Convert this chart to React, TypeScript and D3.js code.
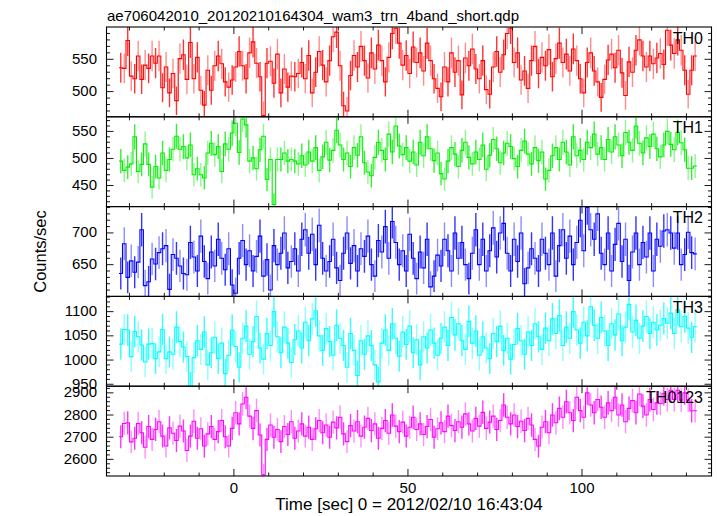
import React from 'react';
import * as d3 from 'd3';

const T_START = -33;
const BIN = 1;

const th0 = [
537,536,579,524,520,555,519,541,536,555,
544,555,506,538,498,528,486,551,557,519,
576,520,553,502,479,533,502,540,555,543,
515,507,518,538,562,540,520,560,577,544,
523,463,544,547,513,558,498,535,507,524,
523,528,
545,520,556,498,530,562,541,515,548,585,
592,540,478,470,525,556,538,570,548,521,
560,535,572,548,515,553,590,598,575,541,
556,528,569,545,560,532,575,548,520,505,
492,538,515,560,530,548,495,552,540,566,
535,520,548,503,496,538,562,530,557,590,
598,545,560,518,532,505,548,570,528,553,
540,565,523,551,575,545,558,532,566,548,
520,498,545,560,532,515,
491,519,549,558,537,564,529,494,546,530,
564,580,555,538,555,543,552,559,542,595,
572,559,580,564,533,496,533,555
];

const th1 = [
495,478,484,490,540,476,489,527,489,447,
485,464,510,478,498,517,541,517,522,501,
525,470,481,470,464,510,528,507,522,476,
527,517,547,565,511,573,562,495,501,481,
516,541,461,498,415,498,498,510,495,498,
495,490,
505,488,512,495,520,478,503,530,497,515,
552,525,498,510,485,520,506,540,492,475,
468,502,530,515,498,545,512,560,523,507,
520,495,512,488,530,505,540,518,496,510,
472,462,495,520,508,485,515,530,502,490,
512,498,525,480,506,535,518,492,510,528,
522,500,485,515,532,508,490,520,496,512,
462,478,505,520,498,530,512,488,540,505,
515,498,530,520,545,508,
520,498,535,512,540,525,505,548,530,515,560,528,510,538,522,545,518,
503,525,550,526,516,548,529,516,482,482,486
];

const th2 = [
636,683,630,656,638,654,705,617,623,659,
651,669,675,680,611,666,660,648,636,634,
685,662,640,695,655,628,670,648,690,660,
642,675,618,605,660,688,650,672,640,663,
695,632,658,610,680,650,668,700,645,655,
675,640,690,705,668,698,650,712,660,640,
655,690,645,625,668,700,652,680,640,675,
663,695,650,632,688,670,710,660,718,685,
650,672,640,698,660,628,670,645,690,615,
632,665,648,690,672,640,700,660,685,650,
628,668,705,650,690,640,672,708,662,700,
715,668,640,690,655,700,620,645,675,660,
640,690,668,650,700,632,680,705,660,695,
650,685,720,672,740,705,690,730,668,650,
700,640,682,715,655,690,625,670,700,650,
685,662,700,640,690,
679,703,705,700,676,700,650,666,701,669,667
];

const th3 = [
1033,1063,1062,1007,1059,1048,1031,996,1033,1034,
1003,1017,1063,1003,1017,1012,1068,1038,1027,1007,
945,
1005,1040,1022,1058,990,1015,1047,1003,1035,972,
1010,1062,1028,985,1045,1070,1012,1038,1090,1025,
1002,1055,1030,1100,1048,1015,1068,1035,995,1042,
1060,1025,1078,1040,1085,1102,1050,1020,1065,1038,
1010,1072,1045,1030,985,1055,1020,968,1040,1012,
1050,1030,990,955,1035,1062,1020,1075,1045,1008,
1058,1032,1070,1015,1042,990,1048,1025,1062,1035,
1010,1045,1068,1030,1088,1052,1075,1040,1022,1080,
1035,1060,1010,1048,1025,1003,1055,1038,1070,1020,
1045,1002,1032,1065,1040,1012,1058,1030,1075,1048,
1022,1066,1040,1085,1055,1092,1030,1068,1045,1100,
1062,1035,1078,1050,1110,1072,1045,1088,1060,1030,
1075,1052,1095,1040,1068,1115,1058,1082,1045,1070,
1090,1055,1078,1062,
1072,1086,1076,1097,1055,1104,1069,1090,1066,1047,1069
];

const th0123 = [
2702,2762,2765,2679,2695,2762,
2720,2655,2748,2690,2735,2770,2705,2660,2742,2718,
2685,2750,2728,2640,2705,2772,2695,2738,2660,2715,
2748,2690,2725,2775,2702,2660,2740,2810,2760,2850,
2880,2795,2740,2820,2710,2530,2690,2755,2700,2735,
2680,2748,2712,2770,2695,2728,2760,2705,2745,2690,
2738,2775,2720,2755,2700,2768,2742,2790,2715,2680,
2752,2728,2770,2705,2745,2785,2730,2760,2695,2740,
2775,2718,2800,2750,2725,2768,2705,2745,2790,2735,
2760,2712,2748,2780,2700,2738,2765,2725,2795,2752,
2730,2770,2745,2805,2760,2728,2785,2750,2812,2740,
2768,2795,2735,2775,2845,2790,2760,2800,2748,2772,
2730,2785,2755,2690,2660,2745,2770,2720,2800,2765,
2830,2790,2860,2810,2775,2880,2820,2790,2900,2845,
2810,2870,2835,2790,2855,2820,2880,2800,2845,2770,
2830,2865,2810,2895,2840,2800,2870,2825,2855,
2852,2897,2870,2912,2870,2912,2867,2900,2867,2819,2819
];

const panelNames = ['TH0', 'TH1', 'TH2', 'TH3', 'TH0123'];
const panelColors = ['#ff0000', '#00ee00', '#0000ff', '#00ffff', '#ff00ff'];
const yDomains: [number, number][] = [[461, 600], [411, 577], [600, 741.5], [946, 1131.5], [2525, 2930]];
const yLabelTicks = [[500, 550], [450, 500, 550], [650, 700], [950, 1000, 1050, 1100], [2600, 2700, 2800, 2900]];
const yMinorSteps = [10, 10, 10, 10, 20];
const xDomain: [number, number] = [-36.6, 137.2];
const xLabelTicks = [0, 50, 100];
const xMinorTicks = d3.range(-30, 140, 10);

const titleText = 'ae706042010_20120210164304_wam3_trn_4band_short.qdp';
const xTitle = 'Time [sec] 0 = 2012/02/10 16:43:04';
const yTitle = 'Counts/sec';

const FONT = '"Liberation Sans", Arial, Helvetica, sans-serif';

export default function App() {
  const W = 717, H = 516;
  const left = 106.5, right = 711.5, top = 27, bottom = 476;
  const series = [th0, th1, th2, th3, th0123];
  const ph = (bottom - top) / series.length;
  const x = d3.scaleLinear().domain(xDomain).range([left, right]);

  return (
    <div style={{ position: 'absolute', left: 0, top: 0 }}>
      <svg width={W} height={H} style={{ display: 'block', background: '#fff' }} fontFamily={FONT}>
        <defs>
          {series.map((_, p) => (
            <clipPath id={`clip${p}`} key={p}>
              <rect x={left} y={top + p * ph} width={right - left} height={ph} />
            </clipPath>
          ))}
        </defs>
        <text x={107} y={21} fontSize={15}>{titleText}</text>
        {series.map((data, p) => {
          const y0 = top + p * ph;
          const y1 = y0 + ph;
          const y = d3.scaleLinear().domain(yDomains[p]).range([y1, y0]);
          const pts: [number, number][] = data.map((v, i) => [T_START + i * BIN, v]);
          pts.push([T_START + data.length * BIN, data[data.length - 1]]);
          const line = d3.line<[number, number]>()
            .x(d => x(d[0]))
            .y(d => y(d[1]))
            .curve(d3.curveStepAfter);
          const [lo, hi] = yDomains[p];
          const minor = d3.range(Math.ceil(lo / yMinorSteps[p]) * yMinorSteps[p], hi, yMinorSteps[p]);
          const color = panelColors[p];
          return (
            <g key={p}>
              <g clipPath={`url(#clip${p})`}>
                {data.map((v, i) => {
                  const e = Math.sqrt(v);
                  const cx = x(T_START + (i + 0.5) * BIN);
                  return (
                    <line key={i} x1={cx} x2={cx} y1={y(v + e)} y2={y(v - e)}
                      stroke={color} strokeOpacity={i % 2 ? 0.45 : 0.8} strokeWidth={1.4} />
                  );
                })}
                <path d={line(pts) || ''} fill="none" stroke={color} strokeWidth={1.1} />
              </g>
              <rect x={left} y={y0} width={right - left} height={ph} fill="none" stroke="#000" strokeWidth={1.1} />
              {minor.map(t => {
                const major = yLabelTicks[p].includes(t);
                const len = major ? 7 : 3.5;
                return (
                  <g key={t}>
                    <line x1={left} x2={left + len} y1={y(t)} y2={y(t)} stroke="#000" strokeWidth={0.9} />
                    <line x1={right} x2={right - len} y1={y(t)} y2={y(t)} stroke="#000" strokeWidth={0.9} />
                  </g>
                );
              })}
              {xMinorTicks.map(t => {
                const major = t % 50 === 0;
                const len = major ? 7 : 3.5;
                return (
                  <g key={t}>
                    <line x1={x(t)} x2={x(t)} y1={y0} y2={y0 + len} stroke="#000" strokeWidth={0.9} />
                    <line x1={x(t)} x2={x(t)} y1={y1} y2={y1 - len} stroke="#000" strokeWidth={0.9} />
                  </g>
                );
              })}
              {yLabelTicks[p].map(t => (
                <text key={t} x={97} y={y(t) + 4.5} fontSize={15} textAnchor="end">{t}</text>
              ))}
              <text x={703} y={y0 + 16.5} fontSize={16} textAnchor="end">{panelNames[p]}</text>
            </g>
          );
        })}
        {xLabelTicks.map(t => (
          <text key={t} x={x(t)} y={493} fontSize={15} textAnchor="middle">{t}</text>
        ))}
        <text x={(left + right) / 2} y={510} fontSize={17} textAnchor="middle">{xTitle}</text>
        <text transform={`translate(46,${(top + bottom) / 2}) rotate(-90)`} fontSize={16.5} textAnchor="middle">{yTitle}</text>
      </svg>
    </div>
  );
}
